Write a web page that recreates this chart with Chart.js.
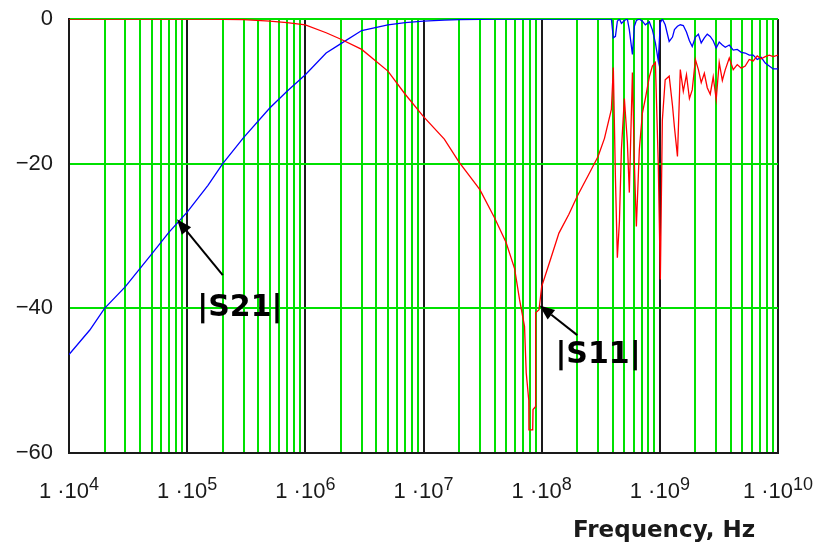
<!DOCTYPE html>
<html>
<head>
<meta charset="utf-8">
<script src="https://cdn.jsdelivr.net/npm/chart.js@4.4.0/dist/chart.umd.min.js"></script>
<style>
html, body { margin: 0; padding: 0; background: #fff; }
#wrap { position: relative; width: 815px; height: 542px; }
</style>
</head>
<body>
<div id="wrap"><canvas id="sChart"></canvas></div>
<script>
// frequency points (Hz) and the two magnitudes (dB)
const freqHz = [
  1e4, 1.5e4, 2e4, 3e4, 5e4, 7e4, 1e5, 1.5e5, 2e5, 3e5, 5e5, 7e5,
  1e6, 1.5e6, 2e6, 3e6, 5e6, 7e6, 1e7, 1.5e7, 2e7, 3e7, 4e7, 5e7,
  5.9e7, 6.5e7, 7.16e7, 7.4e7, 7.78e7, 7.8e7, 8.4e7, 8.45e7, 8.87e7, 8.9e7, 9.5e7, 1e8,
  1.2e8, 1.4e8, 1.7e8, 2e8, 2.5e8, 3e8, 3.4e8, 3.89e8,
  4.04e8, 4.21e8, 4.37e8, 4.55e8, 4.73e8, 5.01e8, 5.31e8, 5.52e8, 5.86e8, 6.09e8,
  6.33e8, 6.71e8, 7.12e8, 7.54e8, 8.15e8, 8.65e8, 9.17e8, 9.7e8, 1.01e9, 1.05e9,
  1.11e9, 1.2e9, 1.28e9, 1.33e9, 1.41e9, 1.49e9, 1.58e9, 1.68e9, 1.78e9, 1.88e9,
  2e9, 2.12e9, 2.24e9, 2.38e9, 2.52e9, 2.67e9, 2.83e9, 3e9, 3.18e9, 3.38e9,
  3.58e9, 3.87e9, 4.18e9, 4.52e9, 4.89e9, 5.28e9, 5.71e9, 6.17e9, 6.67e9, 7.21e9,
  7.8e9, 8.43e9, 9.11e9, 1e10
];
const s21dB = [
  -46.4, -43.0, -40.0, -37.0, -32.5, -29.5, -26.7, -23.0, -20.0, -16.4, -12.3, -10.0,
  -7.7, -4.7, -3.4, -1.6, -0.8, -0.5, -0.3, -0.15, -0.1, -0.05, 0, 0,
  0, 0, 0, 0, 0, 0, 0, 0, 0, 0, 0, 0,
  0, 0, 0, 0, 0, 0, 0, 0,
  -2.6, -2.4, -0.3, 0, -0.6, -0.2, 0, -1.5, -4.9, -1.0,
  -0.2, 0, -0.3, -0.8, -0.4, -1.5, -3.3, -5.8, -0.5, 0,
  -0.8, -3.1, -2.5, -1.45, -1.0, -0.8, -0.9, -1.8, -3.0, -3.8,
  -2.5, -2.1, -3.3, -2.6, -2.1, -2.4, -3.0, -4.0, -3.2, -3.6,
  -3.9, -3.6, -4.3, -4.2, -4.6, -4.7, -5.0, -5.0, -5.6, -5.3,
  -6.1, -6.5, -6.9, -6.9
];
const s11dB = [
  0, 0, 0, 0, 0, 0, 0, 0, -0.05, -0.1, -0.3, -0.5,
  -0.8, -1.9, -2.8, -4.2, -7.2, -10.4, -13.5, -16.6, -19.8, -23.6, -27.5, -30.9,
  -34.5, -38.8, -42.5, -48.9, -52.7, -56.8, -56.8, -54.0, -53.6, -40.6, -40.2, -37.0,
  -33.0, -29.6, -27.0, -24.5, -21.5, -19.0, -16.5, -12.5,
  -6.7, -22, -33, -28, -18, -11, -17, -24, -7.4, -20,
  -28.7, -18, -13, -11, -8, -6.5, -6, -20, -36, -14,
  -8.4, -7.9, -12, -15, -19, -7, -10, -7.7, -11, -9.8,
  -5.6, -7, -8.8, -7.5, -9.5, -10.4, -8, -11.1, -6, -8.5,
  -7, -5.4, -7, -6.3, -6.8, -6.5, -5.6, -5.8, -5.1, -5.5,
  -5.2, -5.0, -5.2, -5.0
];

// axis ticks
const decadeExps = [4, 5, 6, 7, 8, 9, 10];
const minorSteps = [2, 3, 4, 5, 6, 7, 8, 9];
const yTicks = [0, -20, -40, -60];
const xAxisTitle = 'Frequency, Hz';

// curve labels with arrows: [freq, dB] of arrow tip, arrow tail and text centre
const curveLabels = [
  { text: '|S21|', tip: [8.2e4, -27.7], tail: [2.0e5, -35.4], at: [2.79e5, -41.0] },
  { text: '|S11|', tip: [9.6e7, -39.6], tail: [2.0e8, -43.7], at: [3.0e8, -47.5] }
];

const GREEN = '#00e000';
const DARK = '#1a1a1a';

const decorPlugin = {
  id: 'decor',
  afterDraw(chart) {
    const ctx = chart.ctx;
    const xs = chart.scales.x, ys = chart.scales.y;
    ctx.save();
    ctx.fillStyle = DARK;
    ctx.textBaseline = 'alphabetic';
    ctx.textAlign = 'left';

    // x tick labels like 1·10^5
    decadeExps.forEach(e => {
      const px = xs.getPixelForValue(Math.pow(10, e));
      const main = '1 \u00b710';
      const sup = String(e);
      ctx.font = '22px "Liberation Sans"';
      const w1 = ctx.measureText(main).width;
      ctx.font = '18px "Liberation Sans"';
      const w2 = ctx.measureText(sup).width;
      const left = px - (w1 + w2) / 2;
      ctx.font = '22px "Liberation Sans"';
      ctx.fillText(main, left, 498);
      ctx.font = '18px "Liberation Sans"';
      ctx.fillText(sup, left + w1, 490);
    });

    // axis title
    ctx.font = 'bold 23px "DejaVu Sans"';
    ctx.fillText(xAxisTitle, 573, 537);

    // curve labels and arrows
    curveLabels.forEach(l => {
      const tx = xs.getPixelForValue(l.tip[0]), ty = ys.getPixelForValue(l.tip[1]);
      const sx = xs.getPixelForValue(l.tail[0]), sy = ys.getPixelForValue(l.tail[1]);
      const ang = Math.atan2(ty - sy, tx - sx);
      const hl = 15, hw = 6;
      const bx = tx - hl * Math.cos(ang), by = ty - hl * Math.sin(ang);
      ctx.strokeStyle = '#000';
      ctx.lineWidth = 2;
      ctx.beginPath();
      ctx.moveTo(sx, sy);
      ctx.lineTo(bx, by);
      ctx.stroke();
      ctx.fillStyle = '#000';
      ctx.beginPath();
      ctx.moveTo(tx, ty);
      ctx.lineTo(bx + hw * Math.sin(ang), by - hw * Math.cos(ang));
      ctx.lineTo(bx - hw * Math.sin(ang), by + hw * Math.cos(ang));
      ctx.closePath();
      ctx.fill();

      ctx.font = 'bold 30px "DejaVu Sans"';
      ctx.textAlign = 'center';
      ctx.fillText(l.text, xs.getPixelForValue(l.at[0]), ys.getPixelForValue(l.at[1]));
      ctx.textAlign = 'left';
    });
    ctx.restore();
  }
};

const ctx = document.getElementById('sChart').getContext('2d');
new Chart(ctx, {
  type: 'line',
  data: {
    datasets: [
      {
        label: '|S11|',
        data: freqHz.map((f, i) => ({ x: f, y: s11dB[i] })),
        borderColor: '#ff0000',
        borderWidth: 1.3,
        pointRadius: 0,
        tension: 0
      },
      {
        label: '|S21|',
        data: freqHz.map((f, i) => ({ x: f, y: s21dB[i] })),
        borderColor: '#0000ff',
        borderWidth: 1.3,
        pointRadius: 0,
        tension: 0
      }
    ]
  },
  options: {
    responsive: true,
    maintainAspectRatio: false,
    animation: false,
    events: [],
    layout: { padding: { left: 0, right: 37, top: 19, bottom: 89 } },
    plugins: { legend: { display: false }, tooltip: { enabled: false } },
    scales: {
      x: {
        type: 'logarithmic',
        min: 1e4,
        max: 1e10,
        afterBuildTicks: (scale) => {
          const t = [];
          decadeExps.forEach(e => {
            t.push({ value: Math.pow(10, e), major: true });
            if (e < decadeExps[decadeExps.length - 1]) {
              minorSteps.forEach(m => t.push({ value: m * Math.pow(10, e), major: false }));
            }
          });
          scale.ticks = t;
        },
        afterFit: (scale) => { scale.height = 0; },
        ticks: { display: false },
        grid: {
          drawTicks: false,
          lineWidth: 2,
          color: (c) => (c.tick && c.tick.major ? DARK : GREEN)
        },
        border: { display: true, color: DARK, width: 2 }
      },
      y: {
        min: -60,
        max: 0,
        afterBuildTicks: (scale) => {
          scale.ticks = yTicks.map(v => ({ value: v }));
        },
        afterFit: (scale) => {
          scale.width = 69;
          // labels may hang over the plot edges, keep the plot box fixed
          scale.paddingTop = 0;
          scale.paddingBottom = 0;
        },
        ticks: {
          padding: 16,
          color: DARK,
          font: { family: 'Liberation Sans', size: 22 },
          callback: (v) => (v === 0 ? '0' : '\u2212' + Math.abs(v))
        },
        grid: {
          drawTicks: false,
          lineWidth: 2,
          color: (c) => (c.tick && c.tick.value === -60 ? DARK : GREEN)
        },
        border: { display: true, color: DARK, width: 2 }
      }
    }
  },
  plugins: [decorPlugin]
});
</script>
</body>
</html>
